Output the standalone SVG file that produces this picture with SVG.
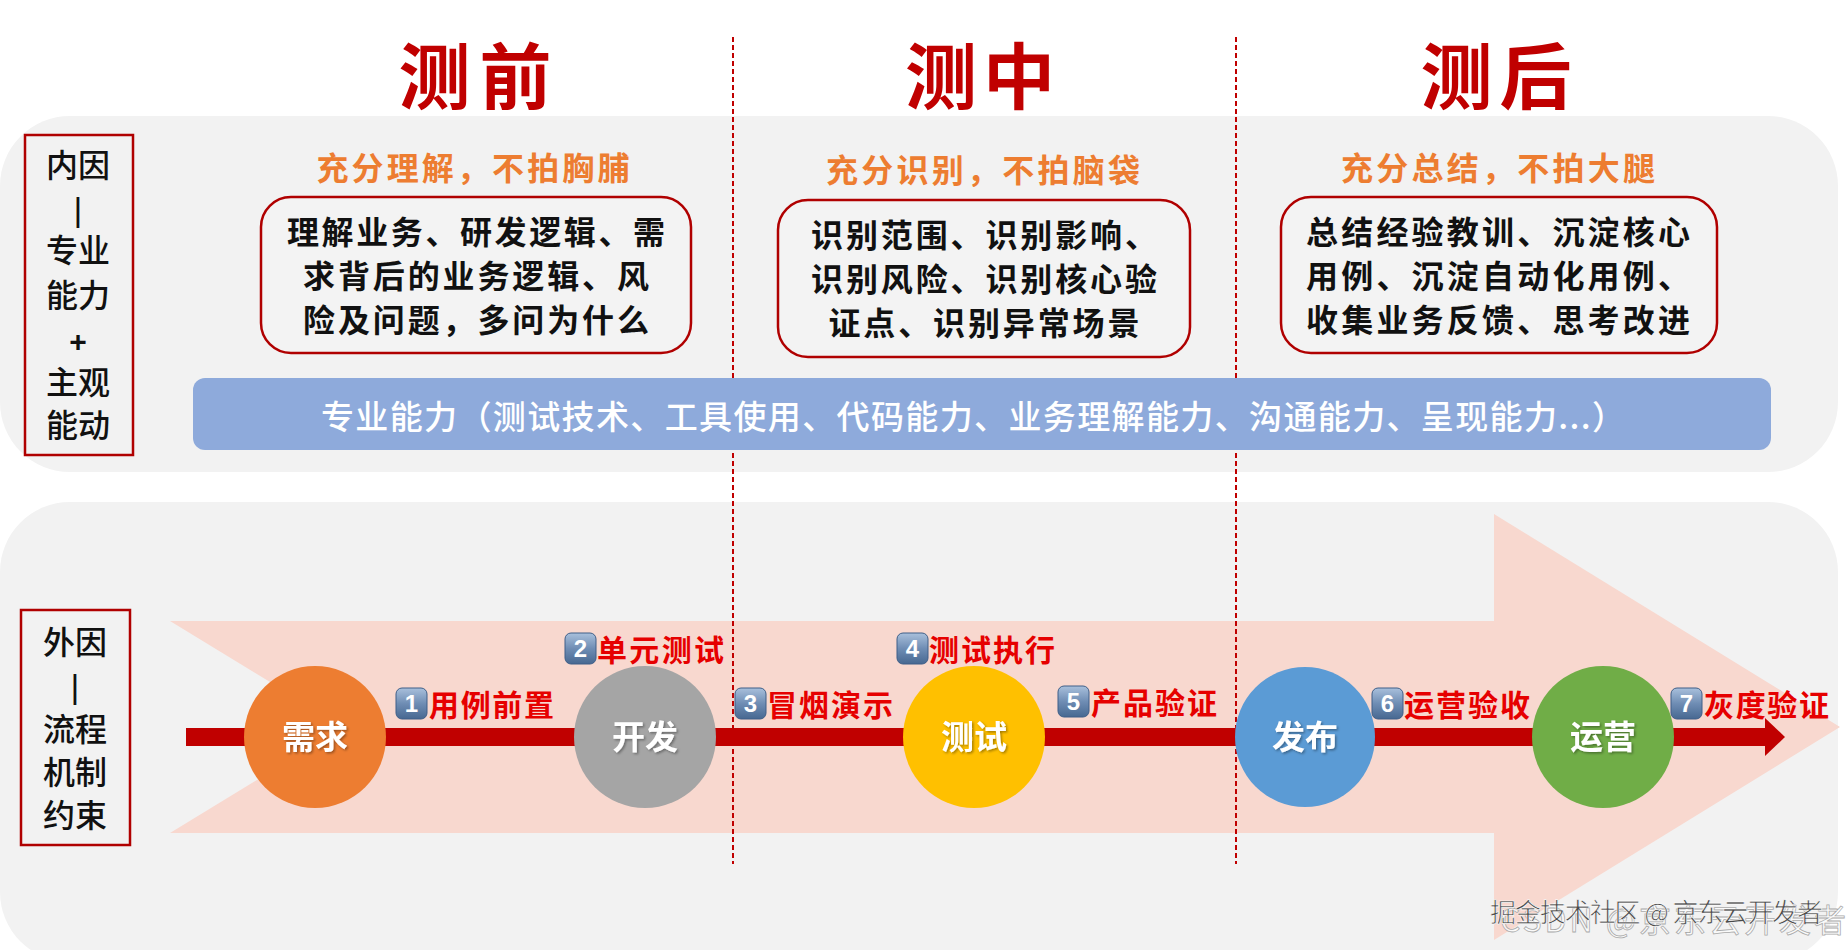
<svg xmlns="http://www.w3.org/2000/svg" width="1848" height="950" viewBox="0 0 1848 950">
<defs>
<style>
text{font-family:"Noto Sans CJK SC","Noto Sans",sans-serif;}
.title{font-size:72px;font-weight:700;fill:#c00000;text-anchor:middle;}
.sub{font-size:32px;font-weight:700;fill:#ed7d31;text-anchor:middle;}
.box{fill:#f3f3f3;stroke:#b00000;stroke-width:2.5;}
.boxt{font-size:32px;font-weight:700;fill:#111;text-anchor:middle;}
.lab{fill:none;stroke:#b00000;stroke-width:2.5;}
.labt{font-size:32px;font-weight:500;fill:#111;text-anchor:middle;}
.bar{font-family:"Liberation Sans",sans-serif;font-size:34px;font-weight:400;}
.dash{stroke:#c00000;stroke-width:2;stroke-dasharray:5 3;fill:none;}
.conn{stroke:#c00000;stroke-width:18;fill:none;}
.ct{font-size:33px;font-weight:700;fill:#fff;text-anchor:middle;filter:url(#ts);}
.bt{font-size:24px;font-weight:700;fill:#fff;text-anchor:middle;font-family:"Liberation Sans",sans-serif;}
.badge{fill:url(#bg);stroke:#3f5f88;stroke-width:1;}
.rt{font-size:30px;font-weight:700;fill:#e60000;}
</style>
<linearGradient id="bg" x1="0" y1="0" x2="0" y2="1">
<stop offset="0" stop-color="#a9c0dc"/>
<stop offset="0.5" stop-color="#6f8db4"/>
<stop offset="1" stop-color="#476891"/>
</linearGradient>
<filter id="ts" x="-20%" y="-20%" width="140%" height="140%">
<feDropShadow dx="1.5" dy="1.5" stdDeviation="1" flood-color="#000" flood-opacity="0.35"/>
</filter>
<marker id="ah" markerUnits="userSpaceOnUse" markerWidth="22" markerHeight="40" refX="0" refY="20" orient="auto">
<path d="M0,1 L20,20 L0,39 Z" fill="#c00000"/>
</marker>
</defs>
<rect width="1848" height="950" fill="#ffffff"/>
<g id="panels">
<rect x="0" y="116" width="1838" height="356" rx="70" fill="#f2f2f2"/>
<rect x="0" y="502" width="1838" height="460" rx="70" fill="#f2f2f2"/>
</g>
<g id="titles">
<text class="title" x="475" y="103" textLength="153">测前</text>
<text class="title" x="980" y="103" textLength="150">测中</text>
<text class="title" x="1496" y="103" textLength="151">测后</text>
</g>
<polygon id="bigArrow" points="170,621 1494,621 1494,514 1840,727 1494,940 1494,833 170,833 344,727" fill="#f8d8cf"/>
<g id="dividers">
<line class="dash" x1="733" y1="37" x2="733" y2="864"/>
<line class="dash" x1="1236" y1="37" x2="1236" y2="864"/>
</g>
<g id="label-inner">
<rect class="lab" x="25" y="135" width="108" height="320"/>
<text class="labt" x="78" y="177">内因</text>
<text class="labt bar" x="78" y="221">|</text>
<text class="labt" x="78" y="262">专业</text>
<text class="labt" x="78" y="307">能力</text>
<text class="labt" x="78" y="352" style="font-family:'Liberation Sans',sans-serif;font-size:30px;font-weight:700">+</text>
<text class="labt" x="78" y="394">主观</text>
<text class="labt" x="78" y="437">能动</text>
</g>
<g id="label-outer">
<rect class="lab" x="21" y="610" width="109" height="235"/>
<text class="labt" x="75" y="654">外因</text>
<text class="labt bar" x="75" y="698">|</text>
<text class="labt" x="75" y="741">流程</text>
<text class="labt" x="75" y="784">机制</text>
<text class="labt" x="75" y="827">约束</text>
</g>
<g id="pre">
<text class="sub" x="473" y="180" textLength="313">充分理解，不拍胸脯</text>
<rect class="box" x="261" y="197" width="430" height="156" rx="30"/>
<text class="boxt" x="476" y="244" textLength="378">理解业务、研发逻辑、需</text>
<text class="boxt" x="476" y="288" textLength="346">求背后的业务逻辑、风</text>
<text class="boxt" x="476" y="332" textLength="346">险及问题，多问为什么</text>
</g>
<g id="mid">
<text class="sub" x="983" y="182" textLength="314">充分识别，不拍脑袋</text>
<rect class="box" x="778" y="200" width="412" height="157" rx="30"/>
<text class="boxt" x="984" y="247" textLength="346">识别范围、识别影响、</text>
<text class="boxt" x="984" y="291" textLength="346">识别风险、识别核心验</text>
<text class="boxt" x="984" y="335" textLength="311">证点、识别异常场景</text>
</g>
<g id="post">
<text class="sub" x="1498" y="180" textLength="314">充分总结，不拍大腿</text>
<rect class="box" x="1281" y="197" width="436" height="156" rx="30"/>
<text class="boxt" x="1498" y="244" textLength="384">总结经验教训、沉淀核心</text>
<text class="boxt" x="1498" y="288" textLength="384">用例、沉淀自动化用例、</text>
<text class="boxt" x="1498" y="332" textLength="384">收集业务反馈、思考改进</text>
</g>
<g id="skills">
<rect x="193" y="378" width="1578" height="72" rx="12" fill="#8eaadb"/>
<text x="321" y="429" textLength="1304" style="font-size:33px;font-weight:500;fill:#fff">专业能力（测试技术、工具使用、代码能力、业务理解能力、沟通能力、呈现能力...）</text>
</g>
<g id="connectors">
<path class="conn" d="M186,737 H316"/>
<path class="conn" d="M315,737 H645"/>
<path class="conn" d="M645,737 H975"/>
<path class="conn" d="M975,737 H1305"/>
<path class="conn" d="M1305,737 H1603"/>
<path class="conn" d="M1603,737 H1765" marker-end="url(#ah)"/>
</g>
<g id="node-req">
<circle cx="315" cy="737" r="71" fill="#ed7d31"/>
<text class="ct" x="315" y="749">需求</text>
</g>
<g id="node-dev">
<circle cx="645" cy="737" r="71" fill="#a5a5a5"/>
<text class="ct" x="645" y="749">开发</text>
</g>
<g id="node-test">
<circle cx="974" cy="737" r="71" fill="#ffc000"/>
<text class="ct" x="974" y="749">测试</text>
</g>
<g id="node-release">
<circle cx="1305" cy="737" r="70" fill="#5b9bd5"/>
<text class="ct" x="1305" y="749">发布</text>
</g>
<g id="node-ops">
<circle cx="1603" cy="737" r="71" fill="#70ad47"/>
<text class="ct" x="1603" y="749">运营</text>
</g>
<g id="step1">
<rect class="badge" x="396" y="688" width="31" height="31" rx="6"/>
<text class="bt" x="411.5" y="712">1</text>
<text class="rt" x="429" y="716" textLength="125">用例前置</text>
</g>
<g id="step2">
<rect class="badge" x="565" y="633" width="31" height="31" rx="6"/>
<text class="bt" x="580.5" y="657">2</text>
<text class="rt" x="597" y="661" textLength="127">单元测试</text>
</g>
<g id="step3">
<rect class="badge" x="735" y="688" width="31" height="31" rx="6"/>
<text class="bt" x="750.5" y="712">3</text>
<text class="rt" x="767" y="716" textLength="126">冒烟演示</text>
</g>
<g id="step4">
<rect class="badge" x="897" y="633" width="31" height="31" rx="6"/>
<text class="bt" x="912.5" y="657">4</text>
<text class="rt" x="929" y="661" textLength="126">测试执行</text>
</g>
<g id="step5">
<rect class="badge" x="1058" y="686" width="31" height="31" rx="6"/>
<text class="bt" x="1073.5" y="710">5</text>
<text class="rt" x="1091" y="714" textLength="126">产品验证</text>
</g>
<g id="step6">
<rect class="badge" x="1372" y="688" width="31" height="31" rx="6"/>
<text class="bt" x="1387.5" y="712">6</text>
<text class="rt" x="1404" y="716" textLength="126">运营验收</text>
</g>
<g id="step7">
<rect class="badge" x="1671" y="688" width="31" height="31" rx="6"/>
<text class="bt" x="1686.5" y="712">7</text>
<text class="rt" x="1704" y="716" textLength="125">灰度验证</text>
</g>
<g id="watermark">
<text x="1500" y="932" textLength="346" style="font-size:32px;fill:#ffffff;fill-opacity:0.7;stroke:#aaaaaa;stroke-width:0.8">CSDN @京东云开发者</text>
<text x="1490" y="922" textLength="333" style="font-size:26px;fill:#4a4a4a;stroke:#ffffff;stroke-width:0.6">掘金技术社区 @ 京东云开发者</text>
</g>
</svg>
